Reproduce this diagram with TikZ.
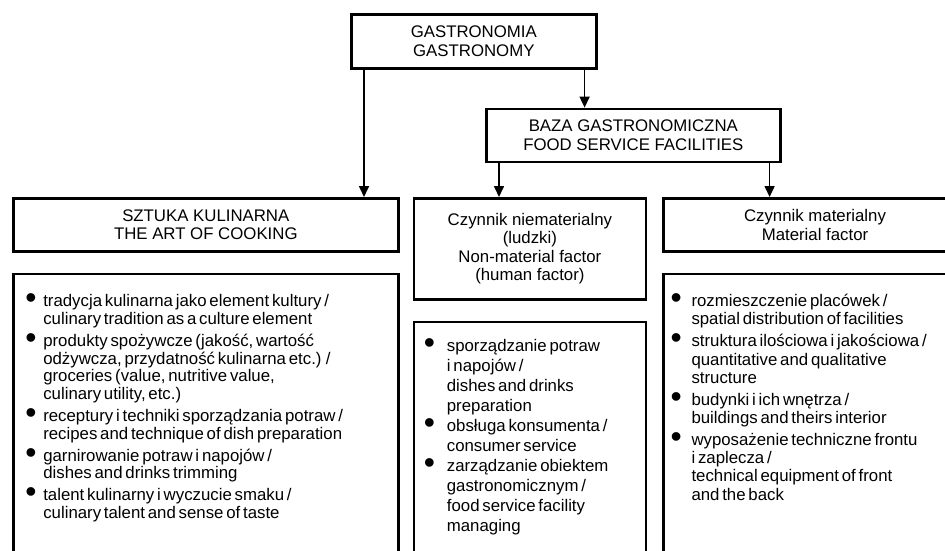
\documentclass[tikz,border=0pt]{standalone}
\usepackage{fontspec}
\usepackage{graphicx}
\setmainfont{Liberation Sans}
\newfontfamily\listfont{Liberation Sans}[WordSpace=0.6]
\usetikzlibrary{positioning}
\usetikzlibrary{arrows.meta}

\newlength{\entryindent}
\newcommand{\dotmark}{\raisebox{-2.2pt}{\scalebox{1.9}{\textbullet}}}
\newcommand{\entry}{\par\noindent\makebox[\entryindent][l]{\dotmark}}
\newcommand{\nl}{\newline\hspace*{\entryindent}}
% #1 width, #2 indent, #3 line pitch, #4 gap between entries, #5 entries
\newcommand{\itemsbox}[5]{\parbox[t][300pt][t]{#1}{\listfont\fontsize{16.8}{#3}\selectfont
    \raggedright\setlength{\entryindent}{#2}\setlength{\parskip}{#4}#5}}

\begin{document}
\begin{tikzpicture}[
    x=1pt,y=-1pt,
    >={Triangle[length=11pt,width=10pt]},
    basic/.style={draw,line width=2.6pt,rectangle},
    header/.style={basic,align=center,anchor=north west,inner sep=2pt,
        font=\fontsize{16.8}{18.5}\selectfont},
    listbox/.style={basic,anchor=north west,inner xsep=#1},
    link/.style={draw,line width=1.6pt,->},
]
    \path[fill=white] (0,0) rectangle (945,551);
    \useasboundingbox (0,0) rectangle (945,551);
    \clip (0,0) rectangle (945,551);

        \node[header,minimum width=245pt,minimum height=54pt] (gastro) at (350,13)
            {GASTRONOMIA\\GASTRONOMY};
        \node[header,minimum width=294pt,minimum height=53pt,
            below right=38pt and 135pt of gastro.south west,anchor=north west] (baza)
            {BAZA GASTRONOMICZNA\\FOOD SERVICE FACILITIES};

        \node[header,minimum width=385pt,minimum height=53pt] (art) at (12,197)
            {SZTUKA KULINARNA\\THE ART OF COOKING};
        \node[header,minimum width=232pt,minimum height=101pt,
            right=13pt of art.north east,anchor=north west] (human)
            {Czynnik niematerialny\\(ludzki)\\Non-material factor\\(human factor)};
        \node[header,minimum width=303pt,minimum height=53pt,
            right=15pt of human.north east,anchor=north west] (material)
            {Czynnik materialny\\Material factor};

        % lists
        \node[listbox=12pt,inner ysep=20pt,below=20pt of art.south west,anchor=north west] (artlist)
            {\itemsbox{361pt}{18pt}{17.8pt}{4pt}{%
            \entry tradycja kulinarna jako element kultury /\nl
                culinary tradition as a culture element
            \entry produkty spożywcze (jakość, wartość\nl
                odżywcza, przydatność kulinarna etc.) /\nl
                groceries (value, nutritive value,\nl
                culinary utility, etc.)
            \entry receptury i techniki sporządzania potraw /\nl
                recipes and technique of dish preparation
            \entry garnirowanie potraw i napojów /\nl
                dishes and drinks trimming
            \entry talent kulinarny i wyczucie smaku /\nl
                culinary talent and sense of taste}};
        \node[listbox=10pt,inner ysep=17pt,below=20pt of human.south west,anchor=north west] (humanlist)
            {\itemsbox{212pt}{23pt}{20pt}{0pt}{%
            \entry sporządzanie potraw\nl
                i napojów /\nl
                dishes and drinks\nl
                preparation
            \entry obsługa konsumenta /\nl
                consumer service
            \entry zarządzanie obiektem\nl
                gastronomicznym /\nl
                food service facility\nl
                managing}};
        \node[listbox=7pt,inner ysep=20pt,below=20pt of material.south west,anchor=north west] (materiallist)
            {\itemsbox{289pt}{21pt}{18.3pt}{3.5pt}{%
            \entry rozmieszczenie placówek /\nl
                spatial distribution of facilities
            \entry struktura ilościowa i jakościowa /\nl
                quantitative and qualitative\nl
                structure
            \entry budynki i ich wnętrza /\nl
                buildings and theirs interior
            \entry wyposażenie techniczne frontu\nl
                i zaplecza /\nl
                technical equipment of front\nl
                and the back}};

        % arrows
        \path[link] ([xshift=14pt]gastro.south west) -- ([xshift=14pt]gastro.south west |- art.north);
        \path[link] ([xshift=-13pt]gastro.south east) -- ([xshift=-13pt]gastro.south east |- baza.north);
        \path[link] ([xshift=14pt]baza.south west) -- ([xshift=14pt]baza.south west |- human.north);
        \path[link] ([xshift=-12pt]baza.south east) -- ([xshift=-12pt]baza.south east |- material.north);
\end{tikzpicture}
\end{document}
